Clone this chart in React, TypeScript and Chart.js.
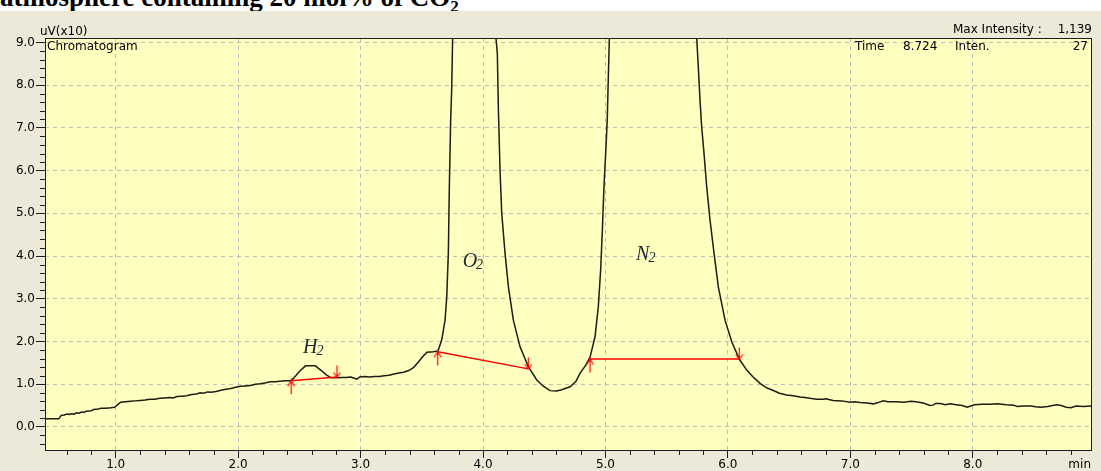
import React, { useEffect, useRef } from "react";
import { Chart, registerables } from "chart.js";

Chart.register(...registerables);

// ---------- data ----------
const chromTimes = [
  0.42, 0.535, 0.555, 0.58, 0.6, 0.62, 0.64, 0.66, 0.68, 0.7, 0.72, 0.74, 0.76, 0.8, 0.82, 0.86, 0.88, 0.92, 0.96, 0.99,
  1.0, 1.04, 1.08, 1.12, 1.16, 1.2, 1.24, 1.28, 1.32, 1.36, 1.4, 1.44, 1.47, 1.5, 1.54, 1.58, 1.62, 1.66, 1.69, 1.72,
  1.75, 1.78, 1.82, 1.86, 1.9, 1.94, 1.98, 2.02, 2.06, 2.1, 2.14, 2.18, 2.22, 2.26, 2.3, 2.34, 2.38, 2.43,
  2.45, 2.5, 2.55, 2.63, 2.68, 2.72, 2.76, 2.8, 2.84, 2.88, 2.92, 2.95, 2.97, 2.993, 3.033, 3.073, 3.113, 3.153, 3.193,
  3.233, 3.273, 3.313, 3.352, 3.392, 3.432, 3.472, 3.512, 3.542, 3.592, 3.622, 3.635, 3.663, 3.69, 3.704, 3.717, 3.725,
  3.736, 3.744, 3.752, 3.76, 3.84, 3.94, 4.095, 4.106, 4.117, 4.126, 4.139, 4.153, 4.18, 4.207, 4.248, 4.302, 4.37,
  4.439, 4.49, 4.547, 4.6, 4.643, 4.711, 4.758, 4.793, 4.838, 4.874, 4.915, 4.942, 4.961, 4.975, 4.988, 5.002, 5.015,
  5.023, 5.032, 5.047, 5.29, 5.44, 5.73, 5.7455, 5.7586, 5.7725, 5.786, 5.805, 5.827, 5.854, 5.887, 5.922, 5.977, 6.031,
  6.093, 6.154, 6.202, 6.262, 6.321, 6.381, 6.421, 6.48, 6.535, 6.59, 6.63, 6.671, 6.725, 6.78, 6.8, 6.859, 6.929,
  6.999, 7.039, 7.079, 7.138, 7.188, 7.228, 7.268, 7.308, 7.377, 7.437, 7.497, 7.537, 7.596, 7.651, 7.676, 7.696,
  7.736, 7.776, 7.816, 7.865, 7.915, 7.955, 7.995, 8.015, 8.075, 8.135, 8.204, 8.274, 8.334, 8.364, 8.414, 8.474,
  8.514, 8.553, 8.613, 8.683, 8.723, 8.763, 8.803, 8.843, 8.903, 8.97,
];
const chromSignal = [
  0.19, 0.19, 0.27, 0.28, 0.3, 0.29, 0.31, 0.3, 0.33, 0.32, 0.35, 0.34, 0.37, 0.38, 0.41, 0.42, 0.44, 0.44, 0.45, 0.46,
  0.48, 0.58, 0.59, 0.6, 0.61, 0.62, 0.63, 0.65, 0.65, 0.67, 0.68, 0.69, 0.68, 0.71, 0.72, 0.73, 0.76, 0.77, 0.8, 0.79,
  0.82, 0.81, 0.83, 0.86, 0.88, 0.9, 0.93, 0.95, 0.96, 0.97, 1.0, 1.01, 1.03, 1.06, 1.06, 1.07, 1.08, 1.08,
  1.13, 1.3, 1.43, 1.43, 1.32, 1.22, 1.15, 1.15, 1.16, 1.16, 1.17, 1.14, 1.12, 1.17, 1.18, 1.17, 1.18, 1.18, 1.2,
  1.21, 1.24, 1.26, 1.28, 1.32, 1.39, 1.52, 1.66, 1.75, 1.76, 1.77, 1.8, 2.04, 2.5, 3.05, 4.07, 5.63,
  7.19, 7.89, 9.1, 10.2, 40, 45, 10.2, 9.1, 8.75, 7.4, 6.02, 5.0, 4.07, 3.29, 2.5, 1.88, 1.41,
  1.1, 0.96, 0.85, 0.84, 0.87, 0.94, 1.06, 1.26, 1.44, 1.63, 2.11, 2.82, 3.68, 4.61, 5.63, 6.41, 7.19,
  8.12, 9.1, 10.5, 100, 113.9, 10.3, 9.1, 8.43, 7.65, 7.03, 6.41, 5.63, 4.85, 4.07, 3.28, 2.5, 2.0,
  1.59, 1.33, 1.18, 1.02, 0.91, 0.84, 0.79, 0.75, 0.73, 0.7, 0.69, 0.67, 0.65, 0.65, 0.66, 0.62, 0.61,
  0.58, 0.59, 0.57, 0.56, 0.54, 0.57, 0.61, 0.59, 0.59, 0.58, 0.6, 0.59, 0.56, 0.5, 0.51, 0.55,
  0.55, 0.52, 0.54, 0.52, 0.5, 0.46, 0.5, 0.52, 0.53, 0.53, 0.54, 0.52, 0.51, 0.48, 0.49, 0.49,
  0.47, 0.46, 0.48, 0.52, 0.5, 0.46, 0.45, 0.49, 0.48, 0.49,
];

// integration baselines (start, end)
const h2BaseTimes = [2.433, 2.807];
const h2BaseSignal = [1.08, 1.17];
const o2BaseTimes = [3.63, 4.37];
const o2BaseSignal = [1.76, 1.36];
const n2BaseTimes = [4.874, 6.093];
const n2BaseSignal = [1.59, 1.59];

// peak labels
const peakNames = ["H", "O", "N"];
const peakLabelTimes = [2.53, 3.834, 5.25];
const peakLabelSignal = [1.73, 3.75, 3.91];

// axes
const xTickValues = [1, 2, 3, 4, 5, 6, 7, 8];
const yTickValues = [0, 1, 2, 3, 4, 5, 6, 7, 8, 9];
const X_MIN = 0.4225;
const X_MAX = 8.966;
const Y_MIN = -0.54;
const Y_MAX = 9.105;
const MINOR_STEP = 0.2;

const UI_FONT = '"DejaVu Sans", "Liberation Sans", sans-serif';

function makeMarker(up: boolean): HTMLCanvasElement {
  const c = document.createElement("canvas");
  c.width = 15;
  c.height = 31;
  const g = c.getContext("2d")!;
  g.strokeStyle = "#ff0000";
  g.lineWidth = 1.2;
  g.beginPath();
  if (up) {
    g.moveTo(7.5, 13.5);
    g.lineTo(7.5, 29);
    g.moveTo(4, 21);
    g.lineTo(7.5, 15.5);
    g.lineTo(11, 21);
  } else {
    g.moveTo(7.5, 4);
    g.lineTo(7.5, 16);
    g.moveTo(4, 11);
    g.lineTo(7.5, 15.5);
    g.lineTo(11, 11);
  }
  g.stroke();
  return c;
}

const decorPlugin = {
  id: "decor",
  beforeDraw(chart: any) {
    const { ctx, chartArea: a } = chart;
    ctx.save();
    ctx.fillStyle = "#FFFFC0";
    ctx.fillRect(a.left, a.top, a.right - a.left, a.bottom - a.top);
    ctx.restore();
  },
  afterDraw(chart: any) {
    const { ctx, chartArea: a } = chart;
    const xs = chart.scales.x;
    const ys = chart.scales.y;
    ctx.save();
    // frame
    ctx.strokeStyle = "#1a1a1a";
    ctx.lineWidth = 1;
    ctx.strokeRect(a.left + 0.5, a.top + 0.5, a.right - a.left, a.bottom - a.top);

    // minor ticks
    ctx.strokeStyle = "#202020";
    ctx.beginPath();
    const kx0 = Math.ceil(X_MIN / MINOR_STEP);
    const kx1 = Math.floor(X_MAX / MINOR_STEP);
    for (let k = kx0; k <= kx1; k++) {
      if (k % 5 === 0) continue;
      const px = Math.round(xs.getPixelForValue(k * MINOR_STEP)) + 0.5;
      ctx.moveTo(px, a.bottom);
      ctx.lineTo(px, a.bottom + 5);
    }
    const ky0 = Math.ceil(Y_MIN / MINOR_STEP);
    const ky1 = Math.floor(Y_MAX / MINOR_STEP);
    for (let k = ky0; k <= ky1; k++) {
      if (k % 5 === 0) continue;
      const py = Math.round(ys.getPixelForValue(k * MINOR_STEP)) + 0.5;
      ctx.moveTo(a.left, py);
      ctx.lineTo(a.left - 5, py);
    }
    ctx.stroke();

    // header / info texts
    ctx.fillStyle = "#000";
    ctx.font = `12px ${UI_FONT}`;
    ctx.textBaseline = "alphabetic";
    ctx.textAlign = "left";
    ctx.fillText("uV(x10)", 40, 35);
    ctx.fillText("Max Intensity :", 953, 33);
    ctx.fillText("Chromatogram", a.left + 2, a.top + 12);
    ctx.fillText("Time", 855, a.top + 12);
    ctx.fillText("8.724", 903, a.top + 12);
    ctx.fillText("Inten.", 955, a.top + 12);
    ctx.textAlign = "right";
    ctx.fillText("1,139", 1092, 33);
    ctx.fillText("27", a.right - 3, a.top + 12);
    ctx.textBaseline = "top";
    ctx.fillText("min", a.right, a.bottom + 9);

    // peak labels
    ctx.fillStyle = "#1a2638";
    ctx.textAlign = "left";
    ctx.textBaseline = "alphabetic";
    for (let i = 0; i < peakNames.length; i++) {
      const px = xs.getPixelForValue(peakLabelTimes[i]);
      const py = ys.getPixelForValue(peakLabelSignal[i]);
      ctx.font = 'italic 20px "Liberation Serif", "DejaVu Serif", serif';
      ctx.fillText(peakNames[i], px, py);
      const w = ctx.measureText(peakNames[i]).width;
      ctx.font = 'italic 14px "Liberation Serif", "DejaVu Serif", serif';
      ctx.fillText("2", px + w - 1, py + 2);
    }
    ctx.restore();
  },
};

function toPoints(xs: number[], ys: number[]) {
  return xs.map((x, i) => ({ x, y: ys[i] }));
}

export default function App() {
  const ref = useRef<HTMLCanvasElement>(null);

  useEffect(() => {
    if (!ref.current) return;
    const up = makeMarker(true);
    const down = makeMarker(false);
    const baseline = (xs: number[], ys: number[]) => ({
      data: toPoints(xs, ys),
      borderColor: "#ff0000",
      borderWidth: 1.4,
      pointStyle: [up, down] as any,
      pointRadius: 6,
      pointHoverRadius: 6,
      tension: 0,
      fill: false,
    });
    const chart = new Chart(ref.current, {
      type: "line",
      data: {
        datasets: [
          baseline(h2BaseTimes, h2BaseSignal),
          baseline(o2BaseTimes, o2BaseSignal),
          baseline(n2BaseTimes, n2BaseSignal),
          {
            data: toPoints(chromTimes, chromSignal),
            borderColor: "#1c1c14",
            borderWidth: 1.5,
            pointRadius: 0,
            tension: 0,
            fill: false,
          },
        ],
      },
      options: {
        animation: false,
        responsive: false,
        events: [],
        layout: { padding: { left: 0, top: 38, right: 10, bottom: 0 } },
        plugins: { legend: { display: false }, tooltip: { enabled: false }, title: { display: false } },
        scales: {
          x: {
            type: "linear",
            min: X_MIN,
            max: X_MAX,
            afterBuildTicks: (s: any) => {
              s.ticks = xTickValues.map((v) => ({ value: v }));
            },
            afterFit: (s: any) => {
              s.height = 21;
            },
            ticks: {
              callback: (v: any) => Number(v).toFixed(1),
              font: { family: UI_FONT, size: 12 },
              color: "#000",
              padding: 0,
              maxRotation: 0,
              autoSkip: false,
            },
            grid: {
              color: "#BEBEBE",
              lineWidth: 1,
              tickColor: "#202020",
              tickLength: 8,
              drawTicks: true,
            },
            border: { display: false, dash: [4, 4] },
          },
          y: {
            type: "linear",
            min: Y_MIN,
            max: Y_MAX,
            afterBuildTicks: (s: any) => {
              s.ticks = yTickValues.map((v) => ({ value: v }));
            },
            afterFit: (s: any) => {
              s.width = 45;
            },
            ticks: {
              callback: (v: any) => Number(v).toFixed(1),
              font: { family: UI_FONT, size: 12 },
              color: "#000",
              padding: 1,
              autoSkip: false,
            },
            grid: {
              color: "#BEBEBE",
              lineWidth: 1,
              tickColor: "#202020",
              tickLength: 9,
              drawTicks: true,
            },
            border: { display: false, dash: [4, 4] },
          },
        },
      },
      plugins: [decorPlugin],
    });
    return () => chart.destroy();
  }, []);

  return (
    <div
      style={{
        position: "fixed",
        left: 0,
        top: 0,
        width: 1101,
        height: 471,
        overflow: "hidden",
        background: "#ffffff",
      }}
    >
      <div
        style={{
          position: "absolute",
          left: 0,
          top: -16,
          font: 'bold 27px "Liberation Serif", "Times New Roman", serif',
          lineHeight: "27px",
          whiteSpace: "nowrap",
          color: "#000",
        }}
      >
        atmosphere containing 20 mol% of CO<sub style={{ fontSize: "17px" }}>2</sub>
      </div>
      <div
        style={{
          position: "absolute",
          left: 0,
          top: 11,
          width: 1101,
          height: 460,
          background: "#ECE9D8",
        }}
      />
      <canvas
        ref={ref}
        width={1101}
        height={471}
        style={{ position: "absolute", left: 0, top: 0, width: 1101, height: 471 }}
      />
    </div>
  );
}
